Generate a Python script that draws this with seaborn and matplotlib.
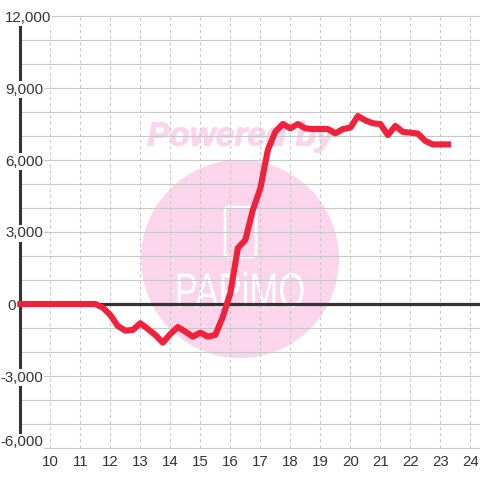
import pandas as pd
import seaborn as sns
import matplotlib.pyplot as plt
import matplotlib.patheffects as pe
from matplotlib.patches import Circle, FancyBboxPatch
from matplotlib.ticker import MultipleLocator
from matplotlib.transforms import Affine2D

# quarter hours starting at 9:00
profit = [0, 0, 0, 0, 0, 0, 0, 0, 0, 0, 0,
          -150, -458, -917, -1110, -1080, -800, -1040, -1290, -1610, -1250, -960, -1150,
          -1360, -1195, -1360, -1290, -530, 450, 2330, 2670, 3920, 4820, 6420, 7180,
          7500, 7320, 7500, 7320, 7290, 7290, 7290, 7110, 7290, 7350, 7833, 7650,
          7530, 7500, 7040, 7420, 7170, 7140, 7100, 6790, 6650, 6650, 6650]
hours = [9 + i * 0.25 for i in range(len(profit))]
x_ticks = list(range(10, 25))
y_ticks = [12000, 9000, 6000, 3000, 0, -3000, -6000]
y_labels = ["12,000", "9,000", "6,000", "3,000", "0", "-3,000", "-6,000"]


class TallText(pe.AbstractPathEffect):
    # logo letters are narrower than any installed font, so stretch them upward
    def draw_path(self, renderer, gc, tpath, affine, rgbFace=None):
        renderer.draw_path(gc, tpath, Affine2D().scale(1, 1.4) + affine, rgbFace)


sns.set_theme(style="white")
plt.rcParams["font.family"] = ["Liberation Sans", "DejaVu Sans"]
plt.rcParams["lines.scale_dashes"] = False

W = 480
fig = plt.figure(figsize=(4.8, 4.8), dpi=100, facecolor="white")

# watermark sits behind the chart, in pixel coordinates
bg = fig.add_axes([0, 0, 1, 1], zorder=-1)
bg.set_xlim(0, W)
bg.set_ylim(W, 0)
bg.axis("off")
bg.add_patch(Circle((240, 259), 99, color="#fbd5ec", lw=0))
bg.add_patch(FancyBboxPatch((225, 207), 31, 50, boxstyle="round,pad=0,rounding_size=4",
                            fc="none", ec="white", lw=1.8))
bg.text(241, 137, "Powered by", color="#fbd5ec", fontsize=24, fontweight="bold",
        fontstyle="italic", ha="center", va="center",
        path_effects=[pe.withStroke(linewidth=0.8, foreground="#fbd5ec")])
bg.text(240, 307, "PAPiMO", color="white", fontsize=25, ha="center", va="baseline",
        path_effects=[TallText()])

# x=9 is at 20.3px and 12000 at y=16, -6000 at y=448
ax = fig.add_axes([20.3 / W, 1 - 448 / W, (W - 20.3) / W, 432 / W])
ax.patch.set_alpha(0)
df = pd.DataFrame({"hour": hours, "profit": profit})
ax.axhline(0, color="#333333", lw=2.3, zorder=1.8)
sns.lineplot(data=df, x="hour", y="profit", ax=ax, color="#f0213a", lw=4.4, clip_on=False,
             solid_capstyle="projecting", solid_joinstyle="round", zorder=3)

ax.set_xlim(9, 24.32)
ax.set_ylim(-6000, 12000)
ax.set_xlabel("")
ax.set_ylabel("")
ax.set_xticks(x_ticks)
ax.yaxis.set_major_locator(MultipleLocator(1000))
ax.tick_params(length=0, labelleft=False, pad=5, labelsize=10.8, labelcolor="#333333")
ax.grid(axis="y", color="#c8c8c8", lw=0.8, clip_on=False)
ax.grid(axis="x", color="#c8c8c8", lw=0.8, linestyle=(0, (2.2, 2.2)))
ax.set_axisbelow(True)
for name in ["top", "right", "bottom"]:
    ax.spines[name].set_visible(False)
ax.spines["left"].set_color("#333333")
ax.spines["left"].set_linewidth(2.2)

# value labels have a white box that cuts the axis and the grid
trans = ax.get_yaxis_transform()
for val, lab in zip(y_ticks, y_labels):
    x_px = {12000: 51, 0: 16}.get(val, 43)
    y_off = -1.5 if val != -6000 else 5.5
    ax.annotate(lab, xy=(0, val), xycoords=trans,
                xytext=(x_px - 20.3, y_off), textcoords="offset pixels",
                ha="right", va="center", fontsize=10.8, color="#333333", zorder=4,
                annotation_clip=False,
                bbox=dict(boxstyle="square,pad=0.08", fc="white", ec="none"))

fig.savefig("out.png", dpi=100)
